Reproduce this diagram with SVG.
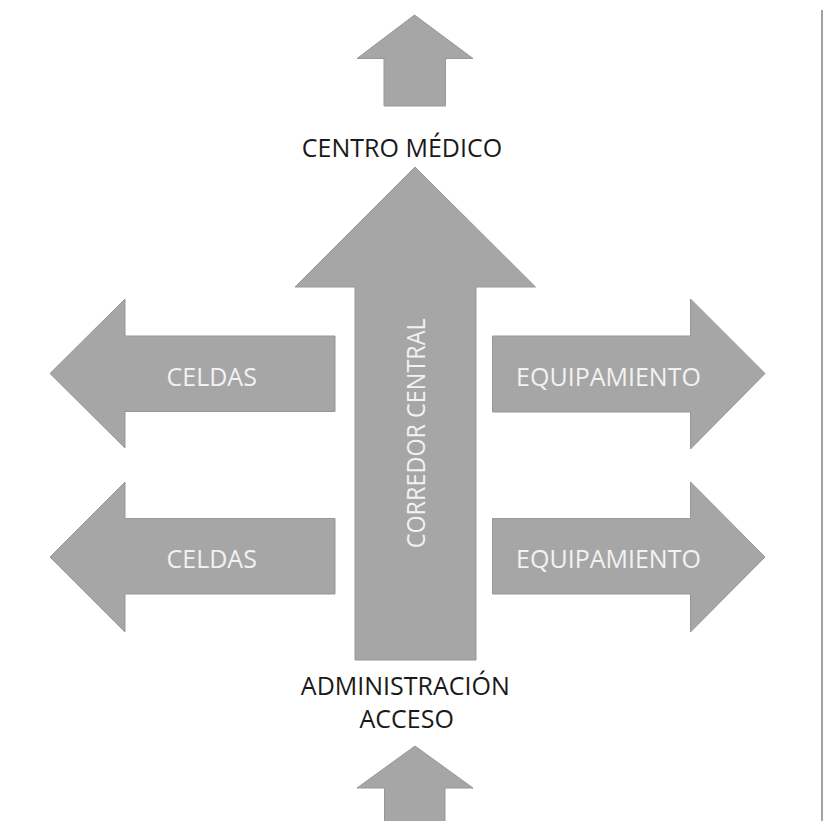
<svg xmlns="http://www.w3.org/2000/svg" width="824" height="821" viewBox="0 0 824 821">
<style>
.arrow{fill:#a6a6a6;stroke:#979797;stroke-width:1}
.in{font-family:"Open Sans","Noto Sans",sans-serif;font-size:25px;fill:#f2f2f2;text-anchor:middle}
.lbl{font-family:"Open Sans","Noto Sans",sans-serif;font-size:25px;fill:#1a1a1a;text-anchor:middle}
</style>
<rect x="0" y="0" width="824" height="821" fill="#ffffff"/>
<rect x="821" y="10" width="2" height="811" fill="#a3a3a3"/>
<g id="connectors">
<polygon id="arrow-top" class="arrow" points="414.5,15 473,58.5 445.5,58.5 445.5,106 384,106 384,58.5 357,58.5"/>
<polygon id="arrow-bottom" class="arrow" points="415,746 473,788 445,788 445,822 384.5,822 384.5,788 357,788"/>
</g>
<g id="corredor">
<polygon class="arrow" points="415,167 535.5,287 476,287 476,660 355,660 355,287 295,287"/>
<text class="in" transform="translate(425,433.3) rotate(-90)" textLength="230" lengthAdjust="spacingAndGlyphs">CORREDOR CENTRAL</text>
</g>
<g id="celdas1">
<polygon class="arrow" points="50,373.5 125,299 125,336 335,336 335,411.5 125,411.5 125,448"/>
<text class="in" x="211.7" y="385.7">CELDAS</text>
</g>
<g id="celdas2">
<polygon class="arrow" points="50,557 125,482 125,518.5 335,518.5 335,594 125,594 125,632"/>
<text class="in" x="211.7" y="567.7">CELDAS</text>
</g>
<g id="equipamiento1">
<polygon class="arrow" points="765,373.5 690.5,299 690.5,336 492.5,336 492.5,412 690.5,412 690.5,449"/>
<text class="in" x="608.5" y="385.7">EQUIPAMIENTO</text>
</g>
<g id="equipamiento2">
<polygon class="arrow" points="765,557 690.5,482 690.5,518.5 492.5,518.5 492.5,594 690.5,594 690.5,632"/>
<text class="in" x="608.5" y="567.7">EQUIPAMIENTO</text>
</g>
<g id="centro-medico">
<text class="lbl" x="402" y="157">CENTRO MÉDICO</text>
</g>
<g id="administracion">
<text class="lbl" x="405.3" y="695">ADMINISTRACIÓN</text>
<text class="lbl" x="406.7" y="728.3">ACCESO</text>
</g>
</svg>
